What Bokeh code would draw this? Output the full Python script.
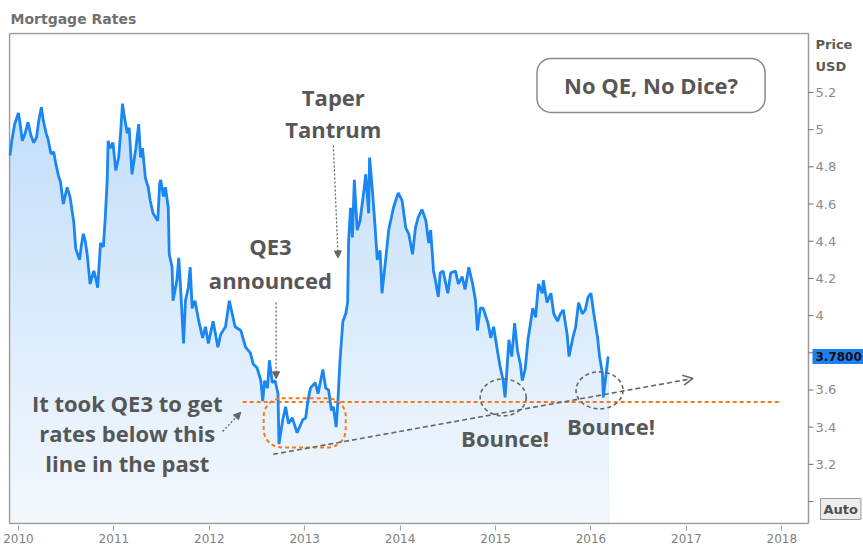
import numpy as np
from bokeh.plotting import figure
from bokeh.models import Range1d, FixedTicker, Label, Arrow, NormalHead, OpenHead
from bokeh.core.properties import value
from bokeh.embed import file_html
from bokeh.resources import INLINE

# ---------------- data ----------------
years = [2009.91, 2009.93, 2009.96, 2010.00, 2010.02, 2010.04, 2010.07, 2010.10, 2010.13, 2010.16,
         2010.19, 2010.21, 2010.24, 2010.26, 2010.29, 2010.31, 2010.34, 2010.37, 2010.39, 2010.42,
         2010.44, 2010.47, 2010.51, 2010.54, 2010.58, 2010.60, 2010.62, 2010.64, 2010.66, 2010.68,
         2010.70, 2010.72, 2010.75, 2010.79, 2010.81, 2010.83, 2010.86, 2010.89, 2010.91, 2010.93,
         2010.94, 2010.96, 2010.99, 2011.02, 2011.05, 2011.07, 2011.09, 2011.11, 2011.14, 2011.16,
         2011.19, 2011.23, 2011.26, 2011.28, 2011.30, 2011.33, 2011.36, 2011.38, 2011.41, 2011.46,
         2011.48, 2011.49, 2011.52, 2011.54, 2011.57, 2011.58, 2011.61, 2011.62, 2011.66, 2011.68,
         2011.70, 2011.73, 2011.75, 2011.78, 2011.80, 2011.82, 2011.85, 2011.89, 2011.93, 2011.96,
         2011.99, 2012.04, 2012.09, 2012.12, 2012.17, 2012.21, 2012.24, 2012.27, 2012.33, 2012.38,
         2012.43, 2012.46, 2012.50, 2012.54, 2012.56, 2012.58, 2012.61, 2012.63, 2012.66, 2012.69,
         2012.72, 2012.73, 2012.77, 2012.80, 2012.83, 2012.87, 2012.92, 2012.98, 2013.01, 2013.03,
         2013.06, 2013.11, 2013.14, 2013.19, 2013.22, 2013.25, 2013.28, 2013.30, 2013.33, 2013.35,
         2013.37, 2013.40, 2013.43, 2013.45, 2013.46, 2013.48, 2013.50, 2013.52, 2013.55, 2013.58,
         2013.62, 2013.64, 2013.67, 2013.68, 2013.71, 2013.74, 2013.76, 2013.79, 2013.81, 2013.85,
         2013.88, 2013.93, 2013.98, 2014.02, 2014.06, 2014.09, 2014.13, 2014.16, 2014.19, 2014.23,
         2014.27, 2014.30, 2014.32, 2014.35, 2014.37, 2014.40, 2014.42, 2014.45, 2014.50, 2014.53,
         2014.58, 2014.61, 2014.65, 2014.68, 2014.72, 2014.76, 2014.79, 2014.81, 2014.84, 2014.87,
         2014.92, 2014.95, 2014.98, 2015.02, 2015.05, 2015.08, 2015.10, 2015.14, 2015.17, 2015.20,
         2015.23, 2015.26, 2015.28, 2015.31, 2015.34, 2015.39, 2015.42, 2015.45, 2015.49, 2015.50,
         2015.54, 2015.58, 2015.61, 2015.65, 2015.68, 2015.71, 2015.75, 2015.77, 2015.81, 2015.84,
         2015.87, 2015.91, 2015.94, 2015.97, 2016.00, 2016.03, 2016.07, 2016.09, 2016.12, 2016.13,
         2016.15, 2016.18]

rates = [4.86, 4.94, 5.03, 5.09, 5.02, 4.94, 4.98, 5.04, 4.97, 4.93,
         4.96, 5.04, 5.12, 5.05, 4.98, 4.95, 4.87, 4.88, 4.82, 4.75,
         4.72, 4.60, 4.69, 4.64, 4.50, 4.36, 4.33, 4.30, 4.38, 4.44,
         4.40, 4.33, 4.17, 4.24, 4.20, 4.15, 4.39, 4.37, 4.53, 4.73,
         4.94, 4.90, 4.93, 4.78, 4.85, 4.98, 5.14, 5.07, 4.98, 5.01,
         4.76, 4.90, 5.03, 4.85, 4.90, 4.74, 4.69, 4.62, 4.55, 4.51,
         4.71, 4.73, 4.64, 4.69, 4.58, 4.33, 4.26, 4.08, 4.19, 4.31,
         4.14, 3.85, 4.08, 4.15, 4.26, 4.04, 4.08, 3.97, 3.88, 3.94,
         3.85, 3.97, 3.83, 3.90, 3.94, 4.08, 4.01, 3.94, 3.92, 3.83,
         3.80, 3.74, 3.72, 3.65, 3.54, 3.65, 3.61, 3.76, 3.64, 3.65,
         3.58, 3.31, 3.44, 3.51, 3.42, 3.45, 3.37, 3.44, 3.45, 3.53,
         3.61, 3.64, 3.58, 3.71, 3.61, 3.60, 3.49, 3.51, 3.40, 3.56,
         3.76, 3.97, 4.01, 4.07, 4.40, 4.58, 4.42, 4.73, 4.46, 4.51,
         4.67, 4.76, 4.55, 4.85, 4.67, 4.46, 4.30, 4.35, 4.12, 4.31,
         4.46, 4.58, 4.66, 4.62, 4.47, 4.44, 4.33, 4.47, 4.53, 4.57,
         4.51, 4.39, 4.46, 4.24, 4.19, 4.10, 4.23, 4.24, 4.12, 4.23,
         4.24, 4.17, 4.21, 4.14, 4.26, 4.17, 4.08, 3.92, 4.04, 4.04,
         3.96, 3.88, 3.94, 3.81, 3.72, 3.65, 3.56, 3.87, 3.78, 3.96,
         3.81, 3.74, 3.65, 3.71, 3.87, 4.04, 3.99, 4.17, 4.12, 4.19,
         4.07, 4.12, 4.01, 3.97, 4.01, 4.03, 3.90, 3.78, 3.88, 3.94,
         4.07, 4.01, 4.03, 4.10, 4.12, 4.01, 3.88, 3.78, 3.69, 3.56,
         3.65, 3.78]

x_ticks = [2010, 2011, 2012, 2013, 2014, 2015, 2016, 2017, 2018]
y_ticks = [3.0, 3.2, 3.4, 3.6, 3.8, 4.0, 4.2, 4.4, 4.6, 4.8, 5.0, 5.2]
y_tick_labels = ["", "3.2", "3.4", "3.6", "", "4", "4.2", "4.4", "4.6", "4.8", "5", "5.2"]

last_label = "3.7800"
qe3_level = 3.535

# plot box (data extents of the framed chart area)
X0, X1 = 2009.906, 2018.28
Y0, Y1 = 2.882, 5.517
PX_X = (X1 - X0) / 799.0   # data units per pixel (x)
PX_Y = (Y1 - Y0) / 490.0   # data units per pixel (y)
XR = X1 + 55 * PX_X        # canvas extends right of the box for the price scale

ANN_FONT = "Open Sans"
ANN_COLOR = "#575757"
LINE_BLUE = "#1a86f2"
ORANGE = "#f27b1f"
GRAY = "#666666"
FRAME = "#9a9a9a"

p = figure(width=863, height=548, output_backend="svg", toolbar_location=None,
           x_range=Range1d(X0 - PX_X, XR), y_range=Range1d(Y0 - PX_Y, Y1 + PX_Y),
           y_axis_location=None, title="Mortgage Rates",
           min_border_left=8, min_border_right=0, min_border_top=32, min_border_bottom=24)
p.background_fill_color = "white"
p.border_fill_color = "white"
p.outline_line_color = None
p.grid.visible = False

p.title.text_font = "DejaVu Sans"
p.title.text_font_size = "14px"
p.title.text_font_style = "bold"
p.title.text_color = "#707070"
p.title.align = "left"
p.title.offset = 2
p.title.standoff = 11

# x axis
p.xaxis.ticker = FixedTicker(ticks=x_ticks)
p.xaxis.axis_line_color = None
p.xaxis.major_tick_line_color = "#a0a0a0"
p.xaxis.major_tick_out = 6
p.xaxis.major_tick_in = -1
p.xaxis.minor_tick_line_color = None
p.xaxis.major_label_standoff = 3
p.xaxis.major_label_text_font = "DejaVu Sans"
p.xaxis.major_label_text_font_size = "12px"
p.xaxis.major_label_text_color = "#808080"

# gradient area fill (stacked caps, darkest first)
xs = np.array(years)
vs = np.array(rates)
n_bands = 40
edges = np.linspace(Y0, 5.25, n_bands + 1)
top_rgb = np.array([192, 221, 250])
bot_rgb = np.array([244, 249, 254])
for k in range(n_bands, 0, -1):
    t = (k - 0.5) / n_bands
    rgb = (bot_rgb + (top_rgb - bot_rgb) * t).astype(int)
    color = "#%02x%02x%02x" % tuple(rgb)
    cap = edges[k] if k < n_bands else 10.0
    p.varea(x=xs, y1=Y0, y2=np.minimum(vs, cap), fill_color=color, fill_alpha=1.0)

# chart box and price scale (right)
p.segment(x0=[X0, X0, X0, X1], y0=[Y0, Y1, Y0, Y0],
          x1=[X1, X1, X0, X1], y1=[Y0, Y1, Y1, Y1],
          line_color=FRAME, line_width=1.5)
p.segment(x0=[X1] * len(y_ticks), x1=[X1 + 5 * PX_X] * len(y_ticks),
          y0=y_ticks, y1=y_ticks, line_color="#707070", line_width=1)
p.text(x=[X1 + 7 * PX_X] * len(y_ticks), y=y_ticks, text=y_tick_labels,
       text_font=value("DejaVu Sans"), text_font_size=value("13px"),
       text_color="#8a8a8a", text_align="left", text_baseline="middle")

# orange support level
p.line(x=[2012.35, 2018.0], y=[qe3_level, qe3_level], line_color=ORANGE,
       line_width=2, line_dash="4 3")

# price line
p.line(x=xs, y=vs, line_color=LINE_BLUE, line_width=2.8)

# orange rounded box around QE3 period
p.quad(left=[2012.57], right=[2013.43], top=[3.555], bottom=[3.291],
       fill_alpha=0, line_color=ORANGE, line_width=2, line_dash="4 3", border_radius=18)

# trend line arrow
p.add_layout(Arrow(end=OpenHead(size=10, line_color=GRAY, line_width=1.5),
                   x_start=2012.67, y_start=3.254, x_end=2017.07, y_end=3.662,
                   line_color=GRAY, line_width=1.6, line_dash="5 3"))

# bounce ellipses
p.ellipse(x=[2015.08, 2016.09], y=[3.56, 3.598], width=[46, 47], height=[37, 37],
          width_units="screen", height_units="screen", fill_alpha=0,
          line_color=GRAY, line_width=1.6, line_dash="4 3")

# pointer arrows
for (xs0, ys0, xs1, ys1) in [(2012.70, 4.07, 2012.70, 3.66),
                             (2013.30, 4.915, 2013.35, 4.31),
                             (2012.14, 3.377, 2012.33, 3.48)]:
    p.add_layout(Arrow(end=NormalHead(size=7, fill_color=GRAY, line_color=GRAY),
                       x_start=xs0, y_start=ys0, x_end=xs1, y_end=ys1,
                       line_color=GRAY, line_width=1.3, line_dash="2 2"))

def ann(x, y, text, size="22px"):
    p.add_layout(Label(x=x, y=y, text=text, text_font=ANN_FONT, text_font_size=size,
                       text_font_style="bold", text_color=ANN_COLOR,
                       text_align="center", text_baseline="middle"))

ann(2013.30, 5.173, "Taper")
ann(2013.30, 5.006, "Tantrum")
ann(2012.64, 4.372, "QE3")
ann(2012.64, 4.19, "announced")
ann(2011.14, 3.528, "It took QE3 to get")
ann(2011.14, 3.367, "rates below this")
ann(2011.14, 3.205, "line in the past")
ann(2015.10, 3.34, "Bounce!")
ann(2016.21, 3.404, "Bounce!")

p.add_layout(Label(x=2016.63, y=5.238, text="No QE, No Dice?", text_font=ANN_FONT,
                   text_font_size="22px", text_font_style="bold", text_color=ANN_COLOR,
                   text_align="center", text_baseline="middle",
                   border_line_color="#8a8a8a", border_line_width=1.5, border_radius=14,
                   background_fill_color="white", padding=(27, 12)))

# price-scale decorations
p.add_layout(Label(x=X1, y=5.458, x_offset=7, text="Price", text_font="DejaVu Sans",
                   text_font_size="13px", text_font_style="bold", text_color="#5a5a5a",
                   text_align="left", text_baseline="middle"))
p.add_layout(Label(x=X1, y=5.339, x_offset=7, text="USD", text_font="DejaVu Sans",
                   text_font_size="13px", text_font_style="bold", text_color="#5a5a5a",
                   text_align="left", text_baseline="middle"))
p.add_layout(Label(x=X1, y=rates[-1], x_offset=4, text=last_label, text_font="DejaVu Sans",
                   text_font_size="12px", text_font_style="bold", text_color="#111111",
                   text_align="left", text_baseline="middle",
                   background_fill_color="#1f7ff0", padding=(3, 3)))
p.add_layout(Label(x=X1, y=Y0, x_offset=12, y_offset=4, text="Auto", text_font="DejaVu Sans",
                   text_font_size="13px", text_font_style="bold", text_color="#505050",
                   text_align="left", text_baseline="bottom",
                   background_fill_color="#ececec", border_line_color="#9a9a9a",
                   border_line_width=1, padding=3))

open("out.html", "w").write(file_html(p, INLINE))
